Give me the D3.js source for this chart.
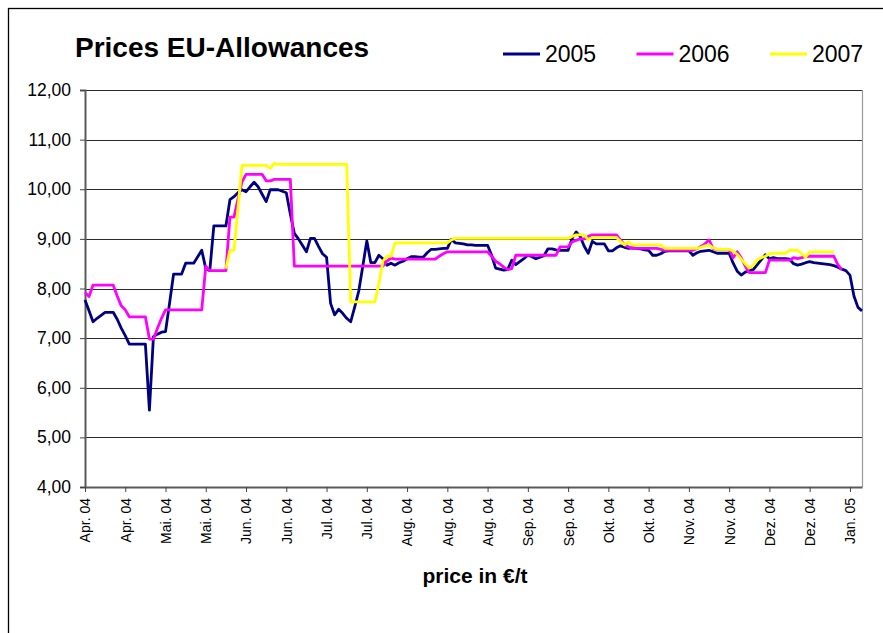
<!DOCTYPE html>
<html>
<head>
<meta charset="utf-8">
<script src="https://cdn.jsdelivr.net/npm/d3@7/dist/d3.min.js"></script>
<style>
  html, body { margin: 0; padding: 0; background: #ffffff; }
  svg { display: block; }
  text { font-family: "Liberation Sans", Arial, Helvetica, sans-serif; fill: #000; }
</style>
</head>
<body>
<svg id="chart" width="883" height="633"></svg>
<script>
// Daily EUA prices (€/t), one value per trading day of the period Apr. 04 – Jan. 05
const prices2005 = [
  7.77, 7.55, 7.33, 7.40, 7.46, 7.52, 7.52, 7.52, 7.38, 7.20,
  7.05, 6.88, 6.88, 6.88, 6.88, 6.88, 5.55, 7.03, 7.08, 7.12,
  7.13, 7.70, 8.29, 8.29, 8.29, 8.51, 8.51, 8.51, 8.64, 8.77,
  8.40, 8.36, 9.26, 9.26, 9.26, 9.26, 9.79, 9.85, 9.93, 9.99,
  9.95, 10.05, 10.14, 10.05, 9.90, 9.75, 9.99, 9.99, 9.99, 9.96,
  9.93, 9.50, 9.11, 9.00, 8.87, 8.74, 9.01, 9.01, 8.85, 8.70,
  8.63, 7.70, 7.47, 7.58, 7.50, 7.40, 7.33, 7.63, 7.95, 8.45,
  8.96, 8.52, 8.52, 8.67, 8.60, 8.47, 8.51, 8.47, 8.52, 8.55,
  8.60, 8.64, 8.64, 8.63, 8.63, 8.72, 8.79, 8.79, 8.80, 8.81,
  8.81, 8.99, 8.92, 8.91, 8.90, 8.88, 8.88, 8.87, 8.87, 8.87,
  8.87, 8.67, 8.41, 8.39, 8.37, 8.38, 8.57, 8.48, 8.54, 8.60,
  8.67, 8.64, 8.60, 8.63, 8.66, 8.80, 8.80, 8.78, 8.77, 8.77,
  8.77, 9.01, 9.14, 9.05, 8.85, 8.71, 8.95, 8.90, 8.90, 8.90,
  8.76, 8.76, 8.82, 8.86, 8.83, 8.81, 8.82, 8.81, 8.80, 8.78,
  8.77, 8.67, 8.67, 8.70, 8.75, 8.76, 8.76, 8.76, 8.76, 8.76,
  8.76, 8.67, 8.72, 8.75, 8.76, 8.77, 8.74, 8.71, 8.71, 8.71,
  8.71, 8.51, 8.35, 8.27, 8.33, 8.36, 8.38, 8.48, 8.58, 8.68,
  8.60, 8.62, 8.60, 8.60, 8.60, 8.59, 8.50, 8.47, 8.49, 8.52,
  8.54, 8.52, 8.51, 8.50, 8.49, 8.48, 8.46, 8.43, 8.39, 8.36,
  8.27, 7.85, 7.62, 7.55
];

const prices2006 = [
  7.92, 7.84, 8.07, 8.07, 8.07, 8.07, 8.07, 8.07, 7.85, 7.65,
  7.57, 7.43, 7.43, 7.43, 7.43, 7.43, 6.98, 6.98, 7.20, 7.40,
  7.57, 7.57, 7.57, 7.57, 7.57, 7.57, 7.57, 7.57, 7.57, 7.57,
  8.45, 8.36, 8.36, 8.36, 8.36, 8.36, 9.44, 9.44, 9.80, 10.15,
  10.30, 10.30, 10.30, 10.30, 10.30, 10.17, 10.17, 10.20, 10.20, 10.20,
  10.20, 10.20, 8.45, 8.45, 8.45, 8.45, 8.45, 8.45, 8.45, 8.45,
  8.45, 8.45, 8.45, 8.45, 8.45, 8.45, 8.45, 8.45, 8.45, 8.45,
  8.45, 8.45, 8.45, 8.45, 8.45, 8.55, 8.61, 8.59, 8.59, 8.59,
  8.59, 8.59, 8.59, 8.59, 8.59, 8.59, 8.59, 8.59, 8.65, 8.70,
  8.74, 8.74, 8.74, 8.74, 8.74, 8.74, 8.74, 8.74, 8.74, 8.74,
  8.74, 8.65, 8.55, 8.50, 8.43, 8.38, 8.40, 8.67, 8.67, 8.67,
  8.67, 8.67, 8.67, 8.67, 8.67, 8.67, 8.67, 8.67, 8.84, 8.84,
  8.84, 8.94, 8.97, 9.00, 9.00, 9.05, 9.08, 9.08, 9.08, 9.08,
  9.08, 9.08, 9.08, 8.98, 8.88, 8.84, 8.81, 8.81, 8.81, 8.81,
  8.81, 8.81, 8.81, 8.79, 8.77, 8.77, 8.77, 8.77, 8.77, 8.77,
  8.77, 8.77, 8.80, 8.85, 8.90, 8.98, 8.81, 8.79, 8.79, 8.79,
  8.79, 8.62, 8.74, 8.62, 8.45, 8.32, 8.32, 8.32, 8.32, 8.32,
  8.57, 8.57, 8.57, 8.57, 8.57, 8.57, 8.62, 8.60, 8.62, 8.64,
  8.65, 8.65, 8.65, 8.65, 8.65, 8.65, 8.65, 8.48, 8.38, null,
  null, null, null, null
];

const prices2007 = [
  null, null, null, null, null, null, null, null, null, null,
  null, null, null, null, null, null, null, null, null, null,
  null, null, null, null, null, null, null, null, null, null,
  null, null, null, null, null, 8.40, 8.77, 8.77, 9.62, 10.48,
  10.48, 10.48, 10.48, 10.48, 10.48, 10.48, 10.42, 10.52, 10.50, 10.50,
  10.50, 10.50, 10.50, 10.50, 10.50, 10.50, 10.50, 10.50, 10.50, 10.50,
  10.50, 10.50, 10.50, 10.50, 10.50, 10.50, 7.73, 7.73, 7.73, 7.73,
  7.73, 7.73, 7.73, 8.10, 8.55, 8.65, 8.65, 8.92, 8.92, 8.92,
  8.92, 8.92, 8.92, 8.92, 8.92, 8.92, 8.92, 8.92, 8.92, 8.92,
  8.92, 8.98, 9.01, 9.01, 9.01, 9.01, 9.01, 9.01, 9.01, 9.01,
  9.01, 9.01, 9.01, 9.01, 9.01, 9.01, 9.01, 9.01, 9.01, 9.01,
  9.01, 9.01, 9.01, 9.01, 9.01, 9.01, 9.01, 9.01, 9.01, 9.01,
  9.01, 9.05, 9.08, 9.08, 9.08, 8.98, 9.03, 9.03, 9.03, 9.03,
  9.03, 9.03, 9.03, 8.95, 8.88, 8.94, 8.88, 8.88, 8.88, 8.88,
  8.88, 8.88, 8.88, 8.88, 8.81, 8.81, 8.81, 8.81, 8.81, 8.81,
  8.81, 8.81, 8.81, 8.83, 8.86, 8.88, 8.82, 8.79, 8.79, 8.79,
  8.79, 8.75, 8.69, 8.59, 8.50, 8.41, 8.47, 8.58, 8.62, 8.65,
  8.70, 8.71, 8.71, 8.71, 8.71, 8.77, 8.77, 8.77, 8.70, 8.63,
  8.74, 8.74, 8.74, 8.74, 8.74, 8.74, 8.74, null, null, null,
  null, null, null, null
];

// Category labels, one every 10 trading days
const tickLabels = [
  "Apr. 04", "Apr. 04", "Mai. 04", "Mai. 04", "Jun. 04", "Jun. 04",
  "Jul. 04", "Jul. 04", "Aug. 04", "Aug. 04", "Aug. 04", "Sep. 04",
  "Sep. 04", "Okt. 04", "Okt. 04", "Nov. 04", "Nov. 04", "Dez. 04",
  "Dez. 04", "Jan. 05"
];
const labelStep = 10;

const seriesNames = ["2005", "2006", "2007"];
const seriesColors = ["#000080", "#ff00ff", "#ffff00"];
const yTicks = [4, 5, 6, 7, 8, 9, 10, 11, 12];

const series = [prices2005, prices2006, prices2007];

const svg = d3.select("#chart");
const plot = { left: 85, right: 862, top: 90, bottom: 487 };

// Outer chart frame
svg.append("rect")
  .attr("x", 8.5).attr("y", 8.5)
  .attr("width", 900).attr("height", 700)
  .attr("fill", "#fff")
  .attr("stroke", "#000").attr("stroke-width", 1.3);

const x = d3.scaleLinear()
  .domain([0, prices2005.length - 1])
  .range([plot.left, plot.right]);

const y = d3.scaleLinear()
  .domain([4, 12])
  .range([plot.bottom, plot.top]);

// Horizontal gridlines
svg.append("g")
  .selectAll("line")
  .data(yTicks.filter(v => v > 4))
  .join("line")
  .attr("x1", plot.left).attr("x2", plot.right)
  .attr("y1", d => Math.round(y(d)) + 0.5)
  .attr("y2", d => Math.round(y(d)) + 0.5)
  .attr("stroke", "#2a2a2a").attr("stroke-width", 1);

// Right edge of plot area
svg.append("line")
  .attr("x1", plot.right + 0.5).attr("x2", plot.right + 0.5)
  .attr("y1", plot.top).attr("y2", plot.bottom)
  .attr("stroke", "#9a9a9a").attr("stroke-width", 1.2);

// Y axis
const fmt = d3.format(".2f");
const yAxis = d3.axisLeft(y)
  .tickValues(yTicks)
  .tickSize(5)
  .tickPadding(9)
  .tickFormat(d => fmt(d).replace(".", ","));

const gy = svg.append("g")
  .attr("transform", `translate(${plot.left},0)`)
  .call(yAxis);
gy.select(".domain").attr("stroke", "#5a5a5a").attr("stroke-width", 2);
gy.selectAll(".tick line").attr("stroke", "#444").attr("stroke-width", 1);
gy.selectAll(".tick text")
  .style("font-family", "'Liberation Sans', Arial, sans-serif")
  .style("font-size", "17.5px")
  .attr("fill", "#000");

// X axis
const xTickIdx = tickLabels.map((_, i) => i * labelStep);
const xAxis = d3.axisBottom(x)
  .tickValues(xTickIdx)
  .tickSize(5)
  .tickSizeOuter(0)
  .tickFormat((d, i) => tickLabels[i]);

const gx = svg.append("g")
  .attr("transform", `translate(0,${plot.bottom})`)
  .call(xAxis);
gx.select(".domain").attr("stroke", "#5a5a5a").attr("stroke-width", 2);
gx.selectAll(".tick line").attr("stroke", "#444").attr("stroke-width", 1);
gx.selectAll(".tick text")
  .style("font-family", "'Liberation Sans', Arial, sans-serif")
  .style("font-size", "14px")
  .attr("fill", "#000")
  .attr("text-anchor", "end")
  .attr("transform", "translate(0,11) rotate(-90)")
  .attr("x", 0).attr("y", 0).attr("dy", "0.35em");

// Price lines, later years drawn on top
const line = d3.line()
  .defined(d => d !== null)
  .x((d, i) => x(i))
  .y(d => y(d));

svg.append("g")
  .selectAll("path")
  .data(series)
  .join("path")
  .attr("d", d => line(d))
  .attr("fill", "none")
  .attr("stroke", (d, i) => seriesColors[i])
  .attr("stroke-width", 2.8)
  .attr("stroke-linejoin", "round");

// Title
svg.append("text")
  .attr("x", 75).attr("y", 57)
  .style("font-size", "28px")
  .style("font-weight", "bold")
  .text("Prices EU-Allowances");

// Legend
const legend = svg.append("g");
seriesNames.forEach((name, i) => {
  const lx = 503 + i * 133.5;
  legend.append("line")
    .attr("x1", lx).attr("x2", lx + 37)
    .attr("y1", 54).attr("y2", 54)
    .attr("stroke", seriesColors[i])
    .attr("stroke-width", 3);
  legend.append("text")
    .attr("x", lx + 42).attr("y", 62)
    .style("font-size", "23px")
    .text(name);
});

// Axis title
svg.append("text")
  .attr("x", 475).attr("y", 583)
  .attr("text-anchor", "middle")
  .style("font-size", "21px")
  .style("font-weight", "bold")
  .text("price in €/t");
</script>
</body>
</html>
